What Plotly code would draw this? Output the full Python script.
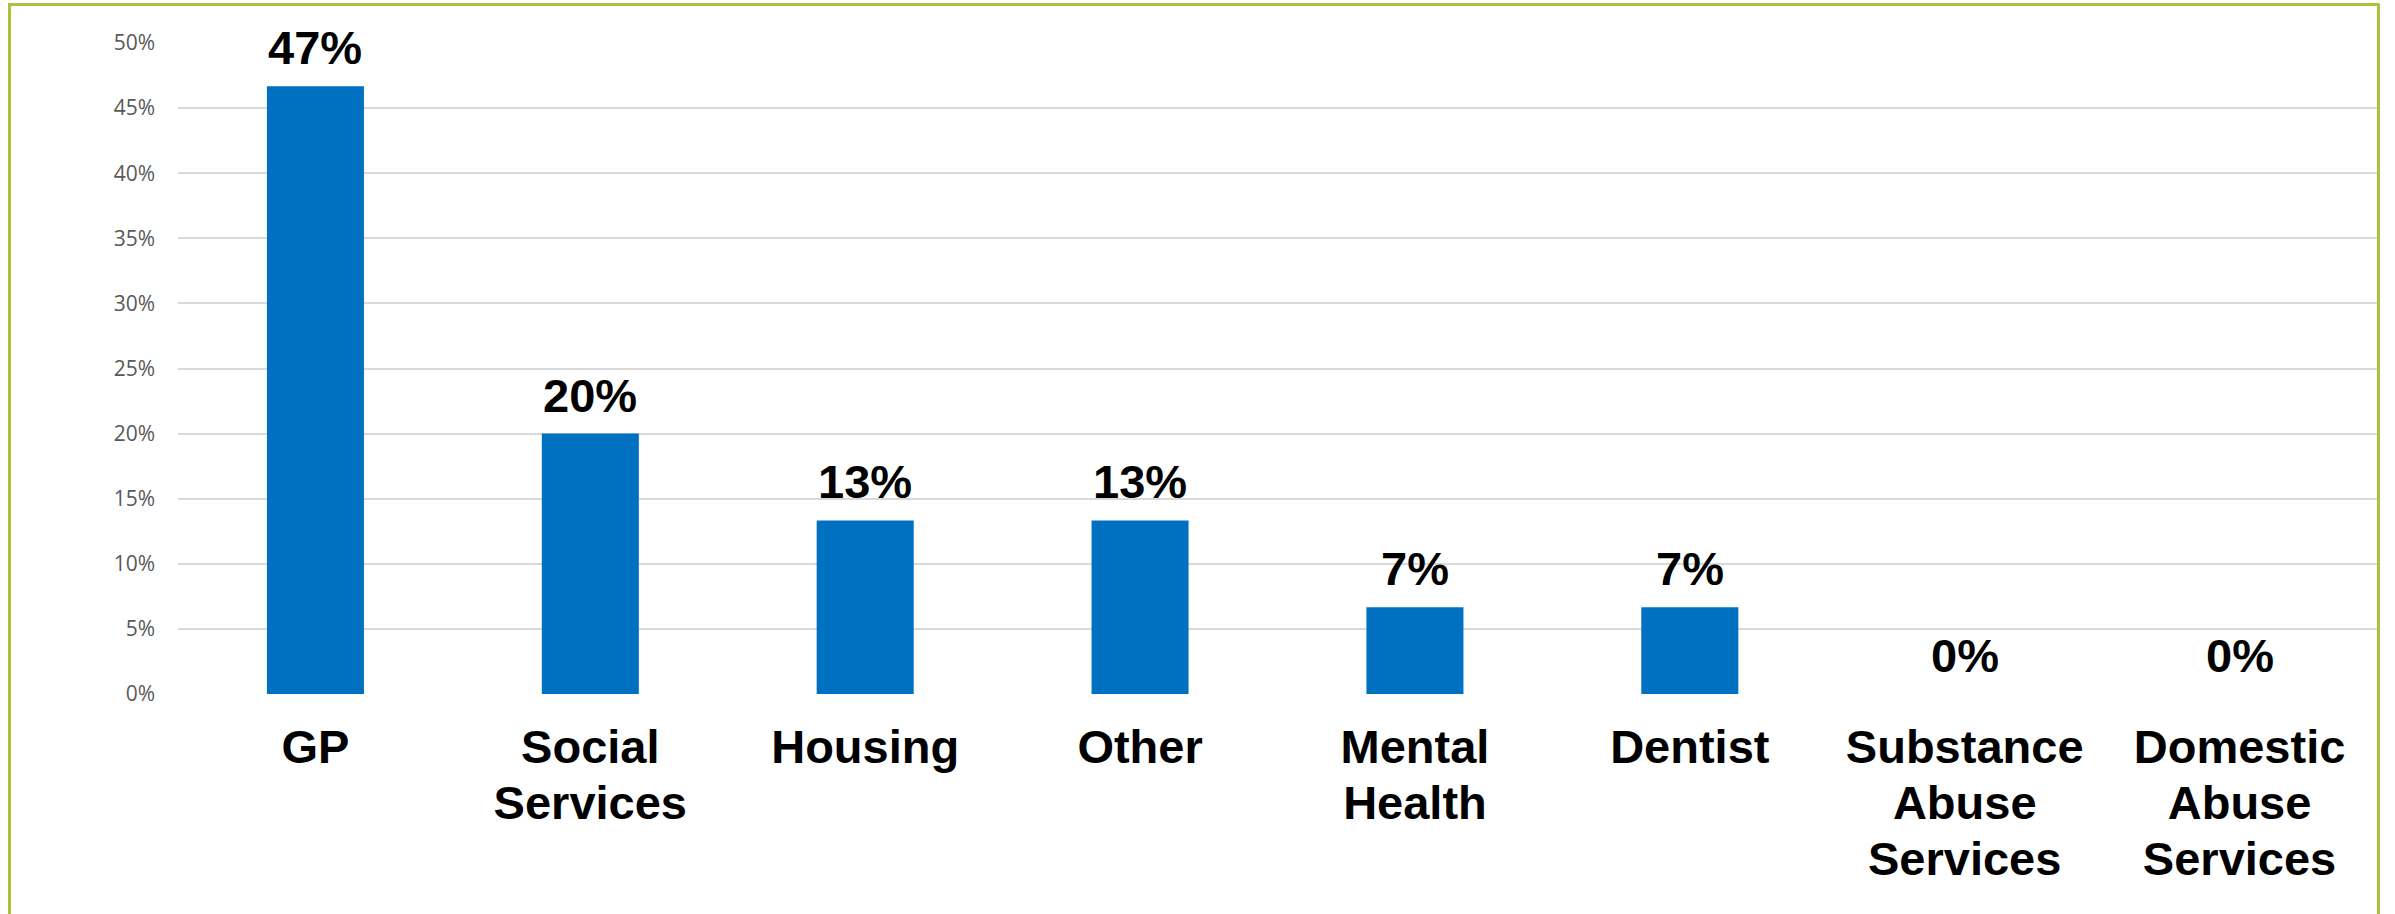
import plotly.graph_objects as go

# Share of referrals by service
categories = ["GP", "Social<br>Services", "Housing", "Other", "Mental<br>Health",
              "Dentist", "Substance<br>Abuse<br>Services", "Domestic<br>Abuse<br>Services"]
shares = [0.4667, 0.2000, 0.1333, 0.1333, 0.0667, 0.0667, 0.0, 0.0]

y_ticks = [0, 0.05, 0.10, 0.15, 0.20, 0.25, 0.30, 0.35, 0.40, 0.45, 0.50]
y_tick_labels = ["0%", "5%", "10%", "15%", "20%", "25%", "30%", "35%", "40%", "45%", "50%"]

BAR_BLUE = "#0070C0"
FRAME_GREEN = "#A9C43A"
GRID_GREY = "#D9D9D9"
LABEL_FONT = "Liberation Sans, Arial, sans-serif"

W, H = 2395, 914
M_LEFT, M_RIGHT, M_TOP, M_BOTTOM = 178, 18, 43, 220

# category labels: lines drawn at 47px, spaced as a 43px font for tighter leading
cat_text = ["<br>".join(f'<span style="font-size:47px">{ln}</span>' for ln in c.split("<br>"))
            for c in categories]

fig = go.Figure()
fig.add_trace(go.Bar(
    x=categories,
    y=shares,
    marker=dict(color=BAR_BLUE, line=dict(width=0)),
    hoverinfo="skip",
))

# value labels above each bar
for cat, v in zip(categories, shares):
    fig.add_annotation(
        x=cat, y=v, xref="x", yref="y",
        text=f"{round(v * 100)}%",
        showarrow=False, yanchor="bottom", yshift=10,
        font=dict(family=LABEL_FONT, size=47, color="#000000", weight="bold"),
    )

# green frame around the chart (left, top, right edges)
pw = W - M_LEFT - M_RIGHT
ph = H - M_TOP - M_BOTTOM
def px_x(p):
    return (p - M_LEFT) / pw
def px_y(p):
    return (H - M_BOTTOM - p) / ph

frame = dict(color=FRAME_GREEN, width=3)
fig.add_shape(type="line", xref="paper", yref="paper",
              x0=px_x(9.5), x1=px_x(9.5), y0=px_y(4), y1=px_y(930), line=frame, layer="above")
fig.add_shape(type="line", xref="paper", yref="paper",
              x0=px_x(8), x1=px_x(2379.5), y0=px_y(4.5), y1=px_y(4.5), line=frame, layer="above")
fig.add_shape(type="line", xref="paper", yref="paper",
              x0=px_x(2378.5), x1=px_x(2378.5), y0=px_y(4), y1=px_y(930), line=frame, layer="above")

fig.update_layout(
    width=W, height=H,
    margin=dict(l=M_LEFT, r=M_RIGHT, t=M_TOP, b=M_BOTTOM, pad=0),
    paper_bgcolor="white", plot_bgcolor="white",
    bargap=0.647,
    showlegend=False,
    xaxis=dict(
        showgrid=False, zeroline=False, showline=False, ticks="",
        tickmode="array", tickvals=categories, ticktext=cat_text,
        tickfont=dict(family=LABEL_FONT, size=43, color="#000000", weight="bold"),
        ticklabelstandoff=25,
        tickangle=0,
    ),
    yaxis=dict(
        range=[0, 0.5],
        tickvals=y_ticks, ticktext=y_tick_labels,
        showgrid=True, gridcolor=GRID_GREY, gridwidth=2,
        zeroline=False, showline=False, ticks="",
        tickfont=dict(family="Open Sans, sans-serif", size=21, color="#595959"),
        ticklabelstandoff=22,
    ),
)

fig.write_html("out.html")
